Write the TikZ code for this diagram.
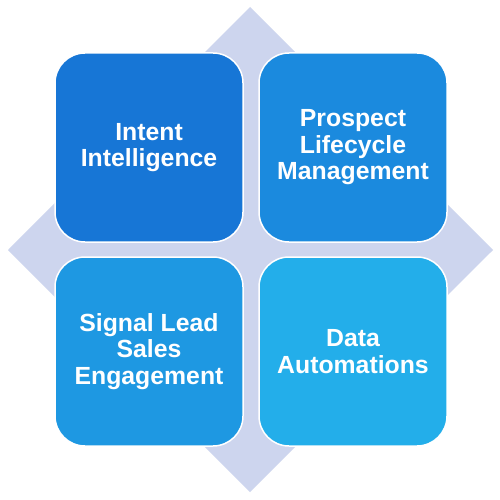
\documentclass[tikz,border=0pt]{standalone}
\usepackage{fontspec}
\setmainfont{Liberation Sans}
\definecolor{diam}{HTML}{CDD5EE}
\definecolor{cA}{HTML}{1776D6}
\definecolor{cB}{HTML}{1B8ADE}
\definecolor{cC}{HTML}{1E98E2}
\definecolor{cD}{HTML}{23AEEA}
\begin{document}
\begin{tikzpicture}[x=1pt,y=-1pt,
  tile/.style={draw=white, line width=1.5pt, rounded corners=30pt, minimum width=188pt, minimum height=189pt, inner sep=0pt, text=white, align=center, font=\fontsize{24.8}{26.5}\selectfont\bfseries}]
\useasboundingbox (0,0) rectangle (500,500);
\fill[white] (0,0) rectangle (500,500);
\fill[diam] (250,7) -- (493,250) -- (250,492) -- (8,250) -- cycle;
\node[tile, fill=cA] (a) at (149,147.5) {Intent\\Intelligence};
\node[tile, fill=cB] (b) at (353,147.5) {Prospect\\Lifecycle\\Management};
\node[tile, fill=cC] (c) at (149,351.5) {Signal Lead\\Sales\\Engagement};
\node[tile, fill=cD] (d) at (353,351.5) {Data\\Automations};
\end{tikzpicture}
\end{document}
